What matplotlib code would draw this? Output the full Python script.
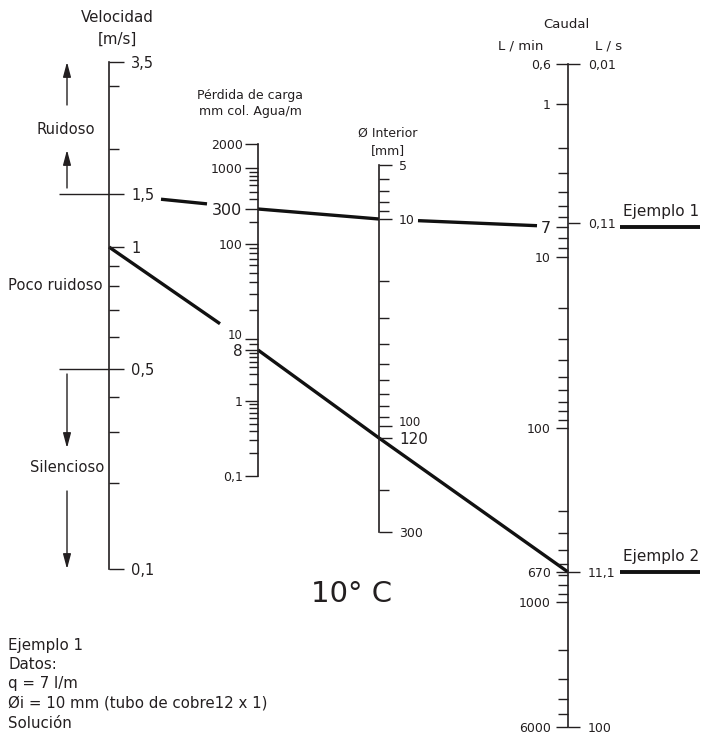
import numpy as np
import matplotlib
matplotlib.use("Agg")
import matplotlib.pyplot as plt
from matplotlib.ticker import FixedLocator, NullFormatter

# ---------------- data ----------------
velocity_major = [3.5, 1.5, 1, 0.5, 0.1]
velocity_labels = ["3,5", "1,5", "1", "0,5", "0,1"]
velocity_minor = [3, 2, 0.9, 0.8, 0.7, 0.6, 0.4, 0.3, 0.2]
zone_limits = [1.5, 0.5]
zone_names = ["Ruidoso", "Poco ruidoso", "Silencioso"]

loss_major = [2000, 1000, 300, 100, 10, 8, 1, 0.1]
loss_labels = ["2000", "1000", "300", "100", "10", "8", "1", "0,1"]
loss_minor = [900, 800, 700, 600, 500, 400, 200,
              90, 80, 70, 60, 50, 40, 30, 20,
              9, 7, 6, 5, 4, 3, 2,
              0.9, 0.8, 0.7, 0.6, 0.5, 0.4, 0.3, 0.2]

diam_major = [5, 10, 100, 120, 300]
diam_labels = ["5", "10", "100", "120", "300"]
diam_minor = [6, 7, 8, 9, 20, 30, 40, 50, 60, 70, 80, 90, 200]

flow_lmin_major = [0.6, 1, 7, 10, 100, 670, 1000, 6000]
flow_lmin_labels = ["0,6", "1", "7", "10", "100", "670", "1000", "6000"]
flow_lmin_minor = [2, 3, 4, 5, 6, 8, 9,
                   20, 30, 40, 50, 60, 70, 80, 90,
                   300, 400, 500, 600, 700, 800, 900,
                   2000, 3000, 4000, 5000]
flow_ls_major = [0.01, 0.11, 11.1, 100]
flow_ls_labels = ["0,01", "0,11", "11,1", "100"]
LMIN_PER_LS = 60.0

example_names = ["Ejemplo 1", "Ejemplo 2"]
example_velocity = [1.5, 1]
example_loss = [300, 8]
example_diameter = [10, 120]
example_flow = [7, 670]

notes = ["Ejemplo 1", "Datos:", "q = 7 l/m",
         "\u00d8i = 10 mm (tubo de cobre12 x 1)", "Soluci\u00f3n"]
temperature = "10\u00b0 C"

# ---------------- layout / calibration of the hand-drawn scales ----------------
W, H = 702, 734
PX = 100 / 72.0          # pixels per point
INK = "#231f20"
plt.rcParams["font.family"] = ["DejaVu Sans"]

X_VEL, X_LOSS, X_DIAM, X_FLOW = 109, 258, 379, 568
vel_px = [62, 194, 247, 369, 569]
loss_px = [144, 168, 209, 244, 339, 350, 401, 476]
diam_px = [165, 219, 426, 438, 532]
flow_px = [64, 104, 227, 257, 428, 572, 602, 727]


def calibration(vals, px):
    vals = np.asarray(vals, float)
    px = np.asarray(px, float)
    order = np.argsort(vals)
    lv = np.log10(vals[order])
    pp = px[order]

    def fwd(v):
        v = np.asarray(v, float)
        with np.errstate(divide="ignore", invalid="ignore"):
            return -np.interp(np.log10(v), lv, pp)

    def inv(t):
        t = np.asarray(t, float)
        return 10 ** np.interp(-t, pp[::-1], lv[::-1])

    return fwd, inv, pp.min(), pp.max(), vals.min(), vals.max()


fig = plt.figure(figsize=(W / 100, H / 100), dpi=100)
ov = fig.add_axes([0, 0, 1, 1])
ov.set_xlim(0, W)
ov.set_ylim(H, 0)
ov.axis("off")


def scale_axes(x, cal, side, major, labels, minor, major_len, minor_len, pad,
               size, special=None, valign=None, factor=1.0, show_spine=True):
    fwd, inv, top, bottom, vmin, vmax = cal
    f = lambda v: fwd(np.asarray(v, float) * factor)
    g = lambda t: inv(t) / factor
    ax = fig.add_axes([x / W, 1 - bottom / H, 1e-4, (bottom - top) / H])
    ax.set_yscale("function", functions=(f, g))
    ax.set_ylim(vmin / factor, vmax / factor)
    ax.set_xlim(0, 1)
    ax.patch.set_visible(False)
    for s in ax.spines.values():
        s.set_visible(False)
    if show_spine:
        ax.spines["left"].set_visible(True)
        ax.spines["left"].set_linewidth(1.2)
        ax.spines["left"].set_color(INK)
    ax.set_xticks([])
    ax.set_yticks(major, labels)
    ax.yaxis.set_minor_locator(FixedLocator(minor))
    ax.yaxis.set_minor_formatter(NullFormatter())
    right = side == "right"
    ax.tick_params(axis="y", which="both", direction="out", left=not right,
                   right=right, labelleft=not right, labelright=right,
                   width=1.0, color=INK, labelcolor=INK)
    ax.tick_params(axis="y", which="major", length=major_len / PX,
                   pad=pad / PX, labelsize=size)
    ax.tick_params(axis="y", which="minor", length=minor_len / PX)
    special = special or {}
    valign = valign or {}
    for tick, lab in zip(ax.yaxis.get_major_ticks(), labels):
        t = tick.label2 if right else tick.label1
        if lab in special:
            t.set_fontsize(special[lab])
        if lab in valign:
            t.set_verticalalignment(valign[lab])
    return ax


vel_cal = calibration(velocity_major, vel_px)
loss_cal = calibration(loss_major, loss_px)
diam_cal = calibration(diam_major, diam_px)
flow_cal = calibration(flow_lmin_major, flow_px)

ax_vel = scale_axes(X_VEL, vel_cal, "right", velocity_major, velocity_labels,
                    velocity_minor, 15, 10, 7, 10.5)
ax_loss = scale_axes(X_LOSS, loss_cal, "left", loss_major, loss_labels,
                     loss_minor, 13, 9, 2.5, 9,
                     special={"300": 11.5, "8": 11, "10": 8.5},
                     valign={"10": "baseline", "8": "center_baseline"})
ax_diam = scale_axes(X_DIAM, diam_cal, "right", diam_major, diam_labels,
                     diam_minor, 13, 10, 7, 9,
                     special={"120": 11, "100": 8.5},
                     valign={"100": "baseline", "120": "center_baseline"})
ax_flow = scale_axes(X_FLOW, flow_cal, "left", flow_lmin_major, flow_lmin_labels,
                     flow_lmin_minor, 12, 10, 5, 9, special={"7": 11.5})
ax_ls = scale_axes(X_FLOW, flow_cal, "right", flow_ls_major, flow_ls_labels,
                   [], 12, 0, 8, 9, factor=LMIN_PER_LS, show_spine=False)


def point(ax, v):
    d = ax.transData.transform((0, v))
    return ov.transData.inverted().transform(d)


# ---- velocity zones ----
zone_y = [point(ax_vel, v)[1] for v in zone_limits]
for y in zone_y:
    ov.plot([X_VEL - 50, X_VEL], [y, y], color=INK, lw=1.0, solid_capstyle="butt")

y_top = point(ax_vel, max(velocity_major))[1]
y_bot = point(ax_vel, min(velocity_major))[1]
zone_label_y = [130, 285, 468]
ov.text(66, zone_label_y[0], zone_names[0], ha="center", va="center",
        fontsize=10.6, color=INK)
ov.text(8, zone_label_y[1], zone_names[1], ha="left", va="center",
        fontsize=10.6, color=INK)
ov.text(67, zone_label_y[2], zone_names[2], ha="center", va="center",
        fontsize=10.6, color=INK)

arrow_kw = dict(arrowstyle="-|>,head_length=0.45,head_width=0.12", lw=1.0,
                color=INK, mutation_scale=20, shrinkA=0, shrinkB=0)
AX_ARROW = 67
arrows = [((AX_ARROW, zone_label_y[0] - 25), (AX_ARROW, y_top)),
          ((AX_ARROW, zone_y[0] - 6), (AX_ARROW, zone_label_y[0] + 20)),
          ((AX_ARROW, zone_y[1] + 5), (AX_ARROW, zone_label_y[2] - 20)),
          ((AX_ARROW, zone_label_y[2] + 23), (AX_ARROW, y_bot))]
for tail, tip in arrows:
    ov.annotate("", xy=tip, xytext=tail, arrowprops=arrow_kw)

# ---- titles ----
ov.text(117, 17, "Velocidad", ha="center", va="center", fontsize=10.8, color=INK)
ov.text(117, 39, "[m/s]", ha="center", va="center", fontsize=10.8, color=INK)
ov.text(250, 96, "P\u00e9rdida de carga", ha="center", va="center", fontsize=9, color=INK)
ov.text(250, 112, "mm col. Agua/m", ha="center", va="center", fontsize=9, color=INK)
ov.text(388, 133, "\u00d8 Interior", ha="center", va="center", fontsize=9, color=INK)
ov.text(388, 151, "[mm]", ha="center", va="center", fontsize=9, color=INK)
ov.text(566, 24, "Caudal", ha="center", va="center", fontsize=9.5, color=INK)
ov.text(521, 46, "L / min", ha="center", va="center", fontsize=9.5, color=INK)
ov.text(609, 46, "L / s", ha="center", va="center", fontsize=9.5, color=INK)
ov.text(352, 594, temperature, ha="center", va="center", fontsize=21, color=INK)

# ---- example lines ----
scale_axes_list = [ax_vel, ax_loss, ax_diam, ax_flow]
example_values = [example_velocity, example_loss, example_diameter, example_flow]
visible_spans = [[(X_VEL + 52, X_LOSS - 51), (X_LOSS, X_DIAM), (X_DIAM + 39, X_FLOW - 31)],
                 [(X_VEL, X_LOSS - 38), (X_LOSS, X_FLOW)]]
for i, name in enumerate(example_names):
    pts = np.array([point(a, vals[i]) for a, vals in zip(scale_axes_list, example_values)])
    xs, ys = pts[:, 0], pts[:, 1]
    for x0, x1 in visible_spans[i]:
        xx = np.linspace(x0, x1, 60)
        ov.plot(xx, np.interp(xx, xs, ys), color="#111111", lw=2.4,
                solid_capstyle="butt", zorder=3)
    yq = ys[-1]
    ov.plot([X_FLOW + 52, W - 2], [yq, yq], color="#111111", lw=2.8,
            solid_capstyle="butt", zorder=3)
    ov.text(X_FLOW + 55, yq - 15, name, ha="left", va="center", fontsize=11, color=INK)

# ---- notes ----
note_baselines = [650, 669, 688, 708, 728]
for txt, yb in zip(notes, note_baselines):
    ov.text(8, yb, txt, ha="left", va="baseline", fontsize=10.8, color=INK)

fig.savefig("out.png", dpi=100)
